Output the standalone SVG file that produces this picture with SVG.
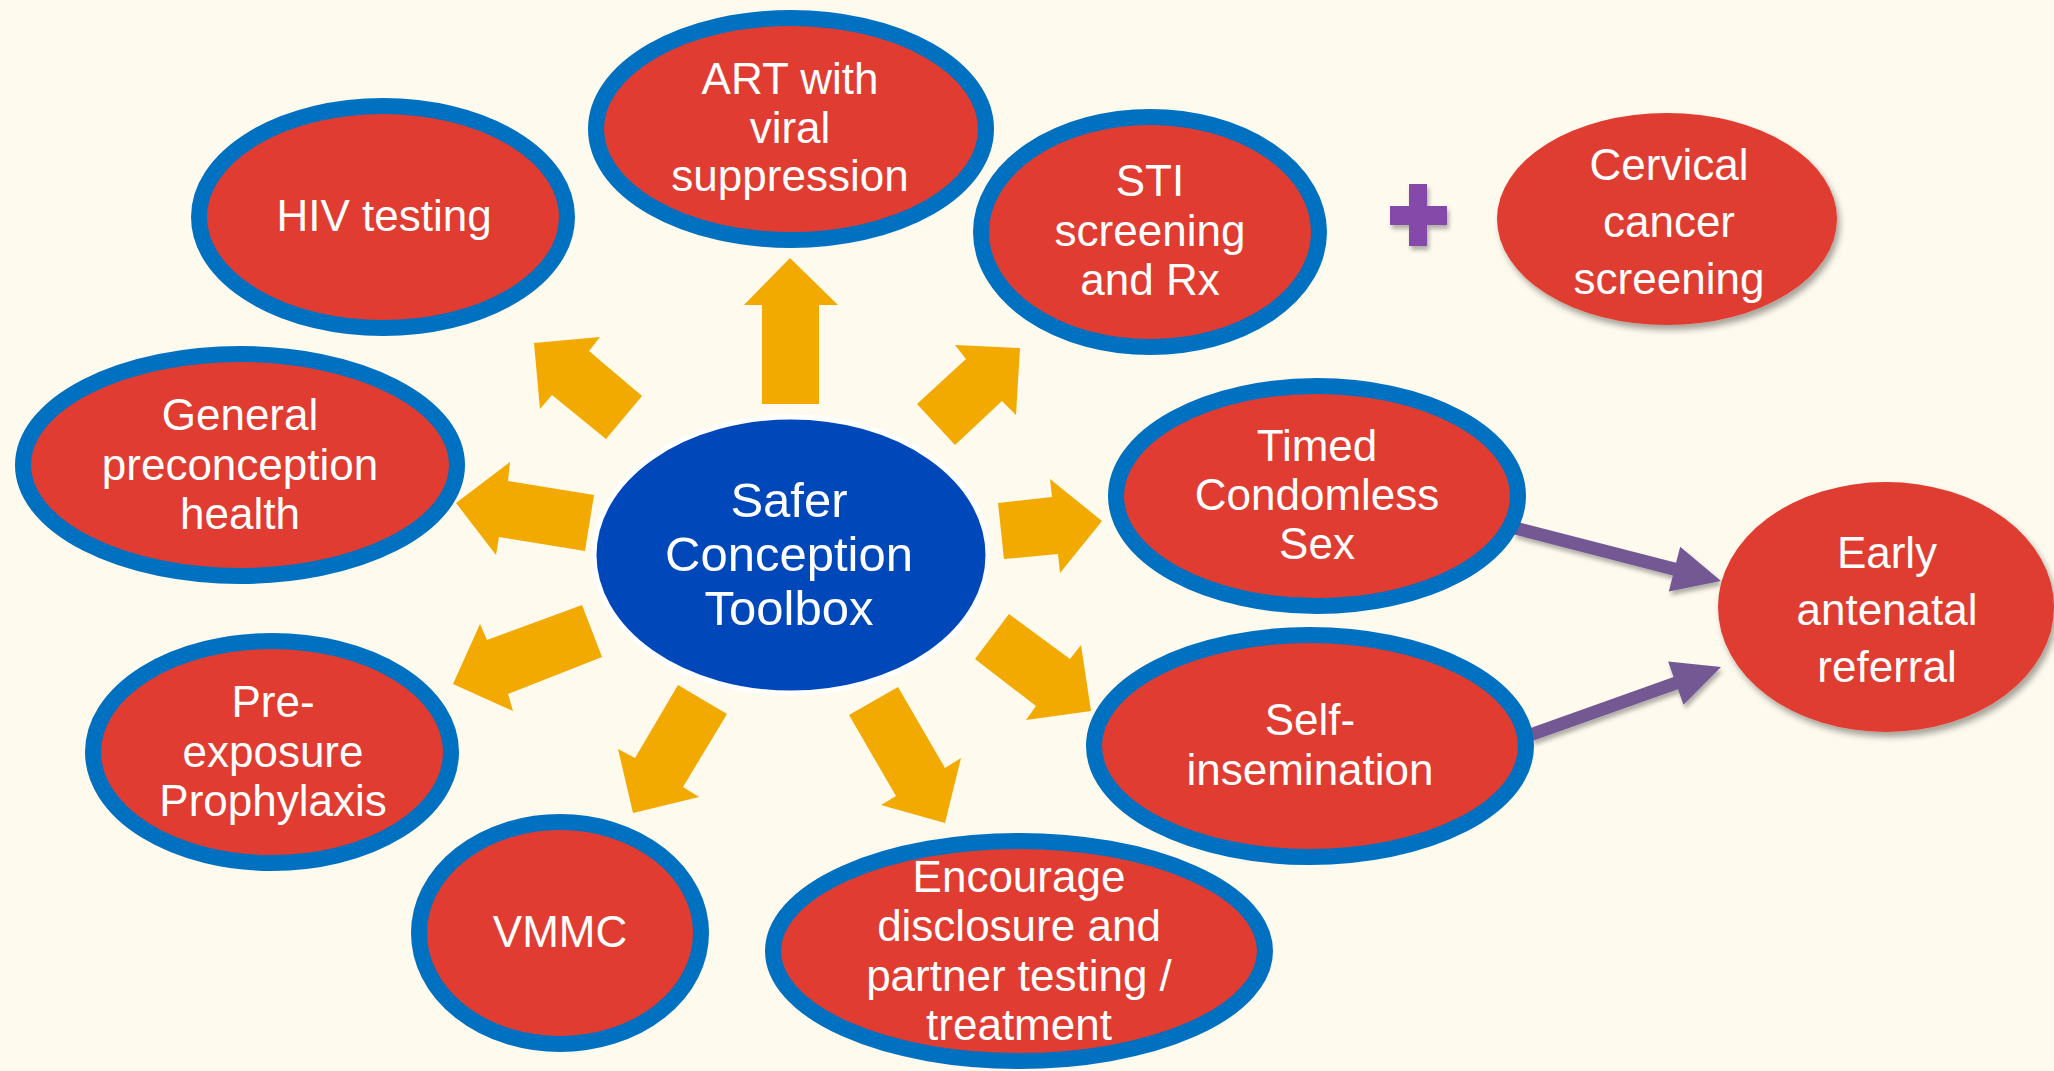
<svg xmlns="http://www.w3.org/2000/svg" width="2054" height="1071" viewBox="0 0 2054 1071">
<style>
.bg{fill:#FEFAEE}
.node{fill:#E03C31;stroke:#0070C0;stroke-width:16}
.plain{fill:#E03C31;filter:url(#sh)}
.hub{fill:#0047BA;stroke:#FFFFFF;stroke-width:5}
.gold{fill:#F2AA00}
.purple{fill:#735893;filter:url(#sh2)}
text{font-family:"Liberation Sans",Arial,sans-serif;fill:#FFFFFF;text-anchor:middle;font-size:44px}
.big{font-size:49px}
</style>
<defs>
<filter id="sh" x="-20%" y="-20%" width="140%" height="140%">
<feDropShadow dx="3" dy="5" stdDeviation="3" flood-color="#000" flood-opacity="0.35"/>
</filter>
<filter id="sh2" x="-20%" y="-50%" width="140%" height="200%">
<feDropShadow dx="2" dy="4" stdDeviation="2" flood-color="#000" flood-opacity="0.3"/>
</filter>
</defs>
<rect class="bg" x="0" y="0" width="2054" height="1071"/>

<g id="connectors">
<polygon class="gold" points="762,404 762,305 744,305 790,258 838,305 819,305 819,404"/>
<polygon class="gold" points="534,343 600,337 589,351 642,396 606,439 552,395 540,409"/>
<polygon class="gold" points="1020,348 1016,415 1002,401 955,445 917,404 966,359 955,345"/>
<polygon class="gold" points="456,503 510,462 508,481 594,495 585,551 499,537 496,555"/>
<polygon class="gold" points="453,684 480,624 487,640 582,605 602,657 508,694 513,711"/>
<polygon class="gold" points="678,685 727,714 683,787 699,797 633,813 618,749 635,758"/>
<polygon class="gold" points="898,687 945,768 961,758 945,823 881,805 896,796 849,715"/>
<polygon class="gold" points="998,503 1052,497 1050,479 1102,521 1060,573 1058,554 1004,559"/>
<polygon class="gold" points="1009,614 1070,659 1081,645 1091,711 1026,720 1036,706 975,659"/>
<polygon class="purple" points="1516.6,521.7 1676.1,562.8 1680.2,546.8 1721,581 1668.8,591.4 1672.9,575.4 1513.4,534.3"/>
<polygon class="purple" points="1527.8,728.9 1673.6,677 1668.1,661.4 1721,667 1683.5,704.8 1678,689.2 1532.2,741.1"/>
</g>

<g id="plus">
<path d="M1409,184 H1427 V206 H1447 V225 H1427 V246 H1409 V225 H1390 V206 H1409 Z" fill="#8548AA" filter="url(#sh2)"/>
</g>

<g id="hub">
<ellipse class="hub" cx="791" cy="555" rx="197" ry="138"/>
<text class="big" x="789" y="517">Safer</text>
<text class="big" x="789" y="571">Conception</text>
<text class="big" x="789" y="625">Toolbox</text>
</g>

<g id="hiv">
<ellipse class="node" cx="383" cy="217" rx="184" ry="111"/>
<text x="384" y="231">HIV testing</text>
</g>

<g id="art">
<ellipse class="node" cx="791" cy="129" rx="195" ry="111"/>
<text x="790" y="94">ART with</text>
<text x="790" y="143">viral</text>
<text x="790" y="191">suppression</text>
</g>

<g id="sti">
<ellipse class="node" cx="1150" cy="232" rx="169" ry="115"/>
<text x="1150" y="196">STI</text>
<text x="1150" y="246">screening</text>
<text x="1150" y="295">and Rx</text>
</g>

<g id="cervical">
<ellipse class="plain" cx="1667" cy="219" rx="170" ry="106"/>
<text x="1669" y="180">Cervical</text>
<text x="1669" y="237">cancer</text>
<text x="1669" y="294">screening</text>
</g>

<g id="general">
<ellipse class="node" cx="240" cy="465" rx="217" ry="111"/>
<text x="240" y="430">General</text>
<text x="240" y="480">preconception</text>
<text x="240" y="529">health</text>
</g>

<g id="timed">
<ellipse class="node" cx="1317" cy="496" rx="201" ry="110"/>
<text x="1317" y="461">Timed</text>
<text x="1317" y="510">Condomless</text>
<text x="1317" y="559">Sex</text>
</g>

<g id="early">
<ellipse class="plain" cx="1886" cy="607" rx="168" ry="125"/>
<text x="1887" y="568">Early</text>
<text x="1887" y="625">antenatal</text>
<text x="1887" y="682">referral</text>
</g>

<g id="self">
<ellipse class="node" cx="1310" cy="746" rx="216" ry="111"/>
<text x="1310" y="735">Self-</text>
<text x="1310" y="785">insemination</text>
</g>

<g id="prep">
<ellipse class="node" cx="272" cy="752" rx="179" ry="111"/>
<text x="273" y="717">Pre-</text>
<text x="273" y="767">exposure</text>
<text x="273" y="816">Prophylaxis</text>
</g>

<g id="vmmc">
<ellipse class="node" cx="560" cy="933" rx="141" ry="111"/>
<text x="560" y="947">VMMC</text>
</g>

<g id="encourage">
<ellipse class="node" cx="1019" cy="951" rx="246" ry="110"/>
<text x="1019" y="892">Encourage</text>
<text x="1019" y="941">disclosure and</text>
<text x="1019" y="991">partner testing /</text>
<text x="1019" y="1040">treatment</text>
</g>
</svg>
